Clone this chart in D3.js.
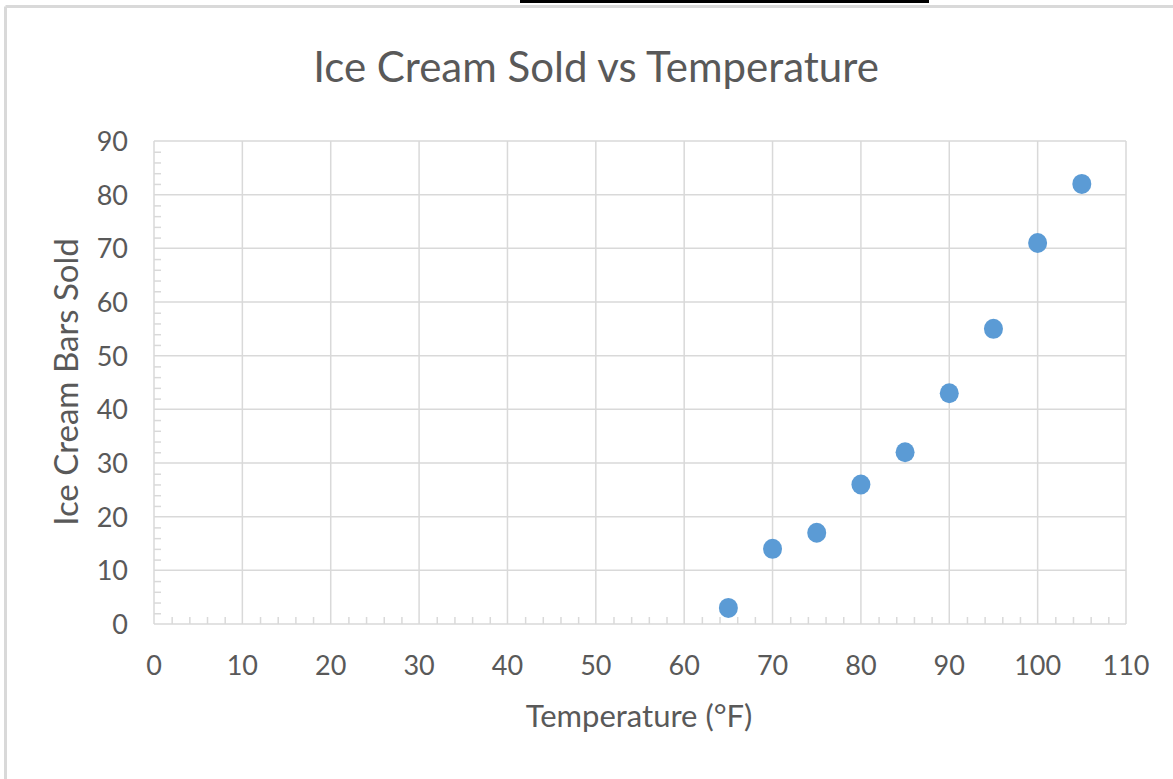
<!DOCTYPE html>
<html>
<head>
<meta charset="utf-8">
<script src="https://cdn.jsdelivr.net/npm/d3@7"></script>
<style>
  body { margin: 0; background: #fff; }
  svg { display: block; }
  text { font-family: Lato, "Open Sans", sans-serif; fill: #595959; }
</style>
</head>
<body>
<div id="chart"></div>
<script>
// values
var temperature = [65, 70, 75, 80, 85, 90, 95, 100, 105];
var barsSold = [3, 14, 17, 26, 32, 43, 55, 71, 82];
var xTicks = [0, 10, 20, 30, 40, 50, 60, 70, 80, 90, 100, 110];
var yTicks = [0, 10, 20, 30, 40, 50, 60, 70, 80, 90];
var chartTitle = 'Ice Cream Sold vs Temperature';
var xTitle = 'Temperature (°F)';
var yTitle = 'Ice Cream Bars Sold';

var w = 1173, h = 779;
var plotLeft = 154, plotRight = 1126, plotTop = 141, plotBottom = 624;
var gridColor = '#d9d9d9';

var svg = d3.select('#chart')
  .append('svg')
  .attr('width', w)
  .attr('height', h);

// chart frame (only top and left edges visible in the crop)
svg.append('line')
  .attr('x1', 5.5).attr('y1', 6.5).attr('x2', w).attr('y2', 6.5)
  .style('stroke', '#d9d9d9').style('stroke-width', 3);
svg.append('line')
  .attr('x1', 5.5).attr('y1', 6.5).attr('x2', 5.5).attr('y2', h)
  .style('stroke', '#d9d9d9').style('stroke-width', 3);

// bit of a black rule cut off at the top
svg.append('line')
  .attr('x1', 520).attr('y1', 1.5).attr('x2', 929).attr('y2', 1.5)
  .style('stroke', '#000').style('stroke-width', 3);

var x = d3.scaleLinear().domain([0, 110]).range([plotLeft, plotRight]);
var y = d3.scaleLinear().domain([0, 90]).range([plotBottom, plotTop]);

// gridlines
svg.append('g')
  .selectAll('line')
  .data(xTicks)
  .enter().append('line')
  .attr('x1', d => x(d)).attr('x2', d => x(d))
  .attr('y1', plotTop).attr('y2', plotBottom)
  .style('stroke', gridColor).style('stroke-width', 1.5);

svg.append('g')
  .selectAll('line')
  .data(yTicks)
  .enter().append('line')
  .attr('x1', plotLeft).attr('x2', plotRight)
  .attr('y1', d => y(d)).attr('y2', d => y(d))
  .style('stroke', gridColor).style('stroke-width', 1.5);

// minor ticks, every 2 units, pointing inside
var xMinor = d3.range(0, 111, 2).filter(d => d % 10 != 0);
var yMinor = d3.range(0, 91, 2).filter(d => d % 10 != 0);

svg.append('g')
  .attr('transform', 'translate(0,' + plotBottom + ')')
  .call(d3.axisTop(x).tickValues(xMinor).tickSize(7).tickFormat(''))
  .call(g => g.select('.domain').remove())
  .call(g => g.selectAll('line').style('stroke', gridColor).style('stroke-width', 1.5));

svg.append('g')
  .attr('transform', 'translate(' + plotLeft + ',0)')
  .call(d3.axisRight(y).tickValues(yMinor).tickSize(7).tickFormat(''))
  .call(g => g.select('.domain').remove())
  .call(g => g.selectAll('line').style('stroke', gridColor).style('stroke-width', 1.5));

// tick labels
svg.append('g')
  .selectAll('text')
  .data(xTicks)
  .enter().append('text')
  .text(d => d)
  .attr('x', d => x(d))
  .attr('y', 675)
  .style('font-size', '27px')
  .style('text-anchor', 'middle');

svg.append('g')
  .selectAll('text')
  .data(yTicks)
  .enter().append('text')
  .text(d => d)
  .attr('x', 128)
  .attr('y', d => y(d) + 10)
  .style('font-size', '27px')
  .style('text-anchor', 'end');

// points
svg.append('g')
  .selectAll('ellipse')
  .data(temperature)
  .enter().append('ellipse')
  .attr('cx', d => x(d))
  .attr('cy', (d, i) => y(barsSold[i]))
  .attr('rx', 9.5)
  .attr('ry', 10)
  .style('fill', '#5b9bd5');

// titles
svg.append('text')
  .text(chartTitle)
  .attr('x', 596)
  .attr('y', 82)
  .style('font-size', '42px')
  .style('text-anchor', 'middle');

svg.append('text')
  .text(xTitle)
  .attr('x', 639)
  .attr('y', 727)
  .style('font-size', '31px')
  .style('text-anchor', 'middle');

svg.append('text')
  .text(yTitle)
  .attr('transform', 'translate(78,382) rotate(-90)')
  .style('font-size', '33px')
  .style('text-anchor', 'middle');
</script>
</body>
</html>
